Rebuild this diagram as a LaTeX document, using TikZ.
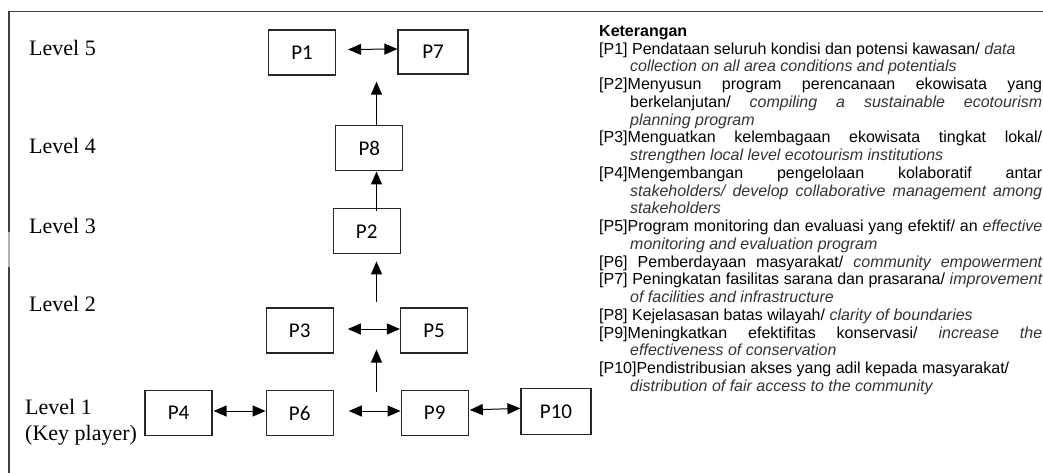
\documentclass[tikz,border=0pt]{standalone}
\usepackage{fontspec}
\setmainfont{Liberation Serif}
\newfontfamily\boxfont{Carlito}
\newfontfamily\notefont{Liberation Sans}
\usetikzlibrary{arrows.meta,calc}

\newcommand{\noteitem}[1]{\par\noindent\hangindent=31pt\hangafter=1 #1\par}
\newcommand{\engl}[1]{{\itshape\color{black!80}#1}}

\begin{document}
\begin{tikzpicture}[x=1pt,y=-1pt,
  >={Triangle[length=13pt,width=11pt]},
  pbox/.style={draw=black!85,line width=1.2pt,minimum width=67pt,minimum height=45pt,inner sep=0pt,font=\boxfont\fontsize{21}{25}\selectfont},
  lvl/.style={anchor=base west,inner sep=0pt,font=\fontsize{22}{26}\selectfont},
  link/.style={line width=1pt,<->},
  rise/.style={line width=1pt,->}]

\useasboundingbox (0,0) rectangle (1043,473) ;

\draw [black!75,line width=1.3pt] (1043,11.5) to (9,11.5) to (9,232) ;
\draw [black!30,line width=1.3pt] (9,232) to (9,267) ;
\draw [black!75,line width=1.3pt] (9,267) to (9,473) ;

\node [lvl] (lv5) at (29,56) {Level 5} ;
\node [lvl] (lv4) at (29,153.7) {Level 4} ;
\node [lvl] (lv3) at (29,233) {Level 3} ;
\node [lvl] (lv2) at (29,311) {Level 2} ;
\node [lvl] (lv1) at (25,414.3) {Level 1} ;
\node [lvl] (key) at (25,440.5) {(Key player)} ;

\node [pbox] (p1) at (302,52.5) {P1} ;
\node [pbox,minimum width=70pt,minimum height=44pt] (p7) at (433,52) {P7} ;
\node [pbox] (p8) at (369.3,148.4) {P8} ;
\node [pbox] (p2) at (366.7,231.3) {P2} ;
\node [pbox] (p3) at (299.7,330.5) {P3} ;
\node [pbox] (p5) at (434,330.5) {P5} ;
\node [pbox] (p4) at (178.5,413) {P4} ;
\node [pbox] (p6) at (299.7,413) {P6} ;
\node [pbox] (p9) at (434.7,413) {P9} ;
\node [pbox,minimum width=70pt,minimum height=46pt] (p10) at (556,411.3) {P10} ;

\coordinate (axis) at (376.5,0) ;

\draw [link] ($(p1.east)+(12,-3)$) to ($(p7.west)+(0,-3)$) ;
\draw [link] ($(p3.east)+(14,-1.5)$) to ($(p5.west)+(0,-1.5)$) ;
\draw [link] ($(p4.east)+(1,-2)$) to ($(p6.west)+(0,-2)$) ;
\draw [link] ($(p6.east)+(15,-2)$) to ($(p9.west)+(0,-2)$) ;
\draw [link] ($(p9.east)+(1,-3)$) to ($(p10.west)+(0,-3)$) ;

\draw [rise] ($(p9.north -| axis)+(0,2)$) to ($(p5.south -| axis)+(0,-4)$) ;
\draw [rise] ($(p5.north -| axis)+(0,-5)$) to ($(p2.south -| axis)+(0,7)$) ;
\draw [rise] ($(p2.north -| axis)+(0,3)$) to (p8.south -| axis) ;
\draw [rise] (p8.north -| axis) to ($(p7.south -| axis)+(0,7)$) ;

\node [anchor=north west,inner sep=0pt,text width=443pt,align=justify,
  font=\notefont\fontsize{16}{17.75}\selectfont] (note) at (599,25.2) {%
\tolerance=10000\hbadness=10000\hyphenpenalty=10000\exhyphenpenalty=10000
{\bfseries Keterangan}\par
\noteitem{[P1] Pendataan seluruh kondisi dan potensi kawasan/ \engl{data}\newline \engl{collection on all area conditions and potentials}}
\noteitem{[P2]Menyusun program perencanaan ekowisata yang\linebreak berkelanjutan/ \engl{compiling a sustainable ecotourism}\linebreak \engl{planning program}}
\noteitem{[P3]Menguatkan kelembagaan ekowisata tingkat lokal/\linebreak \engl{strengthen local level ecotourism institutions}}
\noteitem{[P4]Mengembangan pengelolaan kolaboratif antar\linebreak \engl{stakeholders/ develop collaborative management among}\linebreak \engl{stakeholders}}
\noteitem{[P5]Program monitoring dan evaluasi yang efektif/ an \engl{effective}\linebreak \engl{monitoring and evaluation program}}
\noteitem{[P6] Pemberdayaan masyarakat/ \engl{community empowerment}{\parfillskip=0pt\par}}
\noteitem{[P7] Peningkatan fasilitas sarana dan prasarana/ \engl{improvement}\linebreak \engl{of facilities and infrastructure}}
\noteitem{[P8] Kejelasasan batas wilayah/ \engl{clarity of boundaries}}
\noteitem{[P9]Meningkatkan efektifitas konservasi/ \engl{increase the}\linebreak \engl{effectiveness of conservation}}
\noteitem{[P10]Pendistribusian akses yang adil kepada masyarakat/\newline \engl{distribution of fair access to the community}}} ;

\end{tikzpicture}
\end{document}
